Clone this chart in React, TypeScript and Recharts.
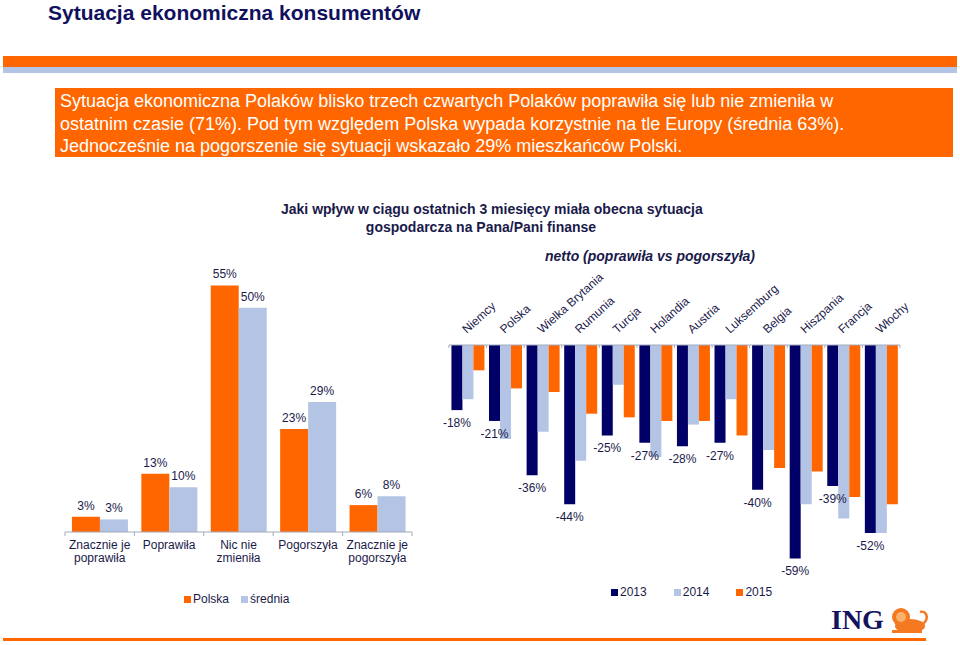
import React from 'react';
import { BarChart, Bar, XAxis, YAxis, LabelList, Legend } from 'recharts';

// left chart: Polska vs average (in %)
const answers = ['Znacznie je\npoprawiła', 'Poprawiła', 'Nic nie\nzmieniła', 'Pogorszyła', 'Znacznie je\npogorszyła'];
const polska = [3.4, 13, 55, 23, 6];
const srednia = [2.8, 10, 50, 29, 8];

// right chart: netto (poprawiła vs pogorszyła)
const countries = ['Niemcy', 'Polska', 'Wielka Brytania', 'Rumunia', 'Turcja', 'Holandia', 'Austria', 'Luksemburg', 'Belgia', 'Hiszpania', 'Francja', 'Włochy'];
const net2013 = [-18, -21, -36, -44, -25, -27, -28, -27, -40, -59, -39, -52];
const net2014 = [-15, -26, -24, -32, -11, -31, -22, -15, -29, -44, -48, -52];
const net2015 = [-7, -12, -13, -19, -20, -21, -21, -25, -34, -35, -42, -44];

const ORANGE = '#FF6600';
const LIGHT = '#B4C4E4';
const NAVY = '#000066';
const TEXT = '#1a1a4a';
const AXIS = '#a3aabb';
const FONT = '"Liberation Sans", Arial, Helvetica, sans-serif';

const answerData = answers.map((a, i) => ({ answer: a, polska: polska[i], srednia: srednia[i] }));
const netData = countries.map((c, i) => ({ country: c, y2013: net2013[i], y2014: net2014[i], y2015: net2015[i] }));

const LEFT_W = 430;
const LEFT_MARGIN = { top: 23, right: 18, bottom: 48, left: 65 };
const RIGHT_W = 500;
const RIGHT_MARGIN = { top: 45, right: 30, bottom: 58, left: 19 };

const leftBand = (LEFT_W - LEFT_MARGIN.left - LEFT_MARGIN.right) / answers.length;
const rightBand = (RIGHT_W - RIGHT_MARGIN.left - RIGHT_MARGIN.right) / countries.length;

function AnswerTick(props: any) {
  const { x, y, payload, index } = props;
  const lines = String(payload.value).split('\n');
  const half = leftBand / 2;
  return (
    <g>
      <line x1={x - half} x2={x - half} y1={y} y2={y + 4} stroke={AXIS} />
      {index === answers.length - 1 && <line x1={x + half} x2={x + half} y1={y} y2={y + 4} stroke={AXIS} />}
      <text x={x} y={y + 17} textAnchor="middle" fontSize={12} fill={TEXT} fontFamily={FONT}>
        {lines.map((l, i) => (
          <tspan key={i} x={x} dy={i === 0 ? 0 : 13}>{l}</tspan>
        ))}
      </text>
    </g>
  );
}

function CountryTick(props: any) {
  const { x, y, payload, index } = props;
  const half = rightBand / 2;
  const tx = x - 1;
  const ty = y - 11;
  return (
    <g>
      <line x1={x - half} x2={x - half} y1={y} y2={y + 3} stroke={AXIS} />
      {index === countries.length - 1 && <line x1={x + half} x2={x + half} y1={y} y2={y + 3} stroke={AXIS} />}
      <text x={tx} y={ty} transform={`rotate(-42 ${tx} ${ty})`} textAnchor="start" fontSize={12} fill={TEXT} fontFamily={FONT}>
        {payload.value}
      </text>
    </g>
  );
}

function renderNetLabel(props: any) {
  const { x, y, width, height, value } = props;
  const end = Math.max(Number(y), Number(y) + Number(height));
  return (
    <text x={Number(x) + Number(width) / 2} y={end + 17} textAnchor="middle" fontSize={12} fill={TEXT} fontFamily={FONT}>
      {value}%
    </text>
  );
}

function legendContent(gap: number) {
  return (props: any) => (
    <div style={{ display: 'flex', gap, fontFamily: FONT, fontSize: 12, color: TEXT, whiteSpace: 'nowrap' }}>
      {(props.payload || []).map((p: any) => (
        <span key={p.value} style={{ display: 'flex', alignItems: 'center' }}>
          <span style={{ display: 'inline-block', width: 7, height: 7, background: p.color, marginRight: 2 }} />
          {p.value}
        </span>
      ))}
    </div>
  );
}

export default function App() {
  return (
    <div style={{ position: 'absolute', left: 0, top: 0, width: 960, height: 645, background: '#fff', fontFamily: FONT, overflow: 'hidden' }}>
      <div style={{ position: 'absolute', left: 48, top: 0, fontSize: 21, lineHeight: '26px', fontWeight: 'bold', color: '#10105e', whiteSpace: 'nowrap' }}>
        Sytuacja ekonomiczna konsumentów
      </div>
      <div style={{ position: 'absolute', left: 3, top: 56, width: 954, height: 11, background: ORANGE }} />
      <div style={{ position: 'absolute', left: 3, top: 67, width: 954, height: 6, background: LIGHT }} />
      <div style={{ position: 'absolute', left: 55, top: 88, width: 898, height: 69, background: ORANGE, color: '#fff', fontSize: 18, lineHeight: '22.5px', padding: '2px 0 0 5px', boxSizing: 'border-box', whiteSpace: 'nowrap' }}>
        Sytuacja ekonomiczna Polaków blisko trzech czwartych Polaków poprawiła się lub nie zmieniła w
        <br />ostatnim czasie (71%). Pod tym względem Polska wypada korzystnie na tle Europy (średnia 63%).
        <br />Jednocześnie na pogorszenie się sytuacji wskazało 29% mieszkańców Polski.
      </div>

      <div style={{ position: 'absolute', left: 281, width: 400, top: 200, fontSize: 14, lineHeight: '18px', fontWeight: 'bold', color: TEXT, textAlign: 'center', whiteSpace: 'nowrap' }}>
        Jaki wpływ w ciągu ostatnich 3 miesięcy miała obecna sytuacja
        <br />gospodarcza na Pana/Pani finanse
      </div>
      <div style={{ position: 'absolute', left: 545, top: 248, fontSize: 14, fontWeight: 'bold', fontStyle: 'italic', color: TEXT, whiteSpace: 'nowrap' }}>
        netto (poprawiła vs pogorszyła)
      </div>

      <div style={{ position: 'absolute', left: 0, top: 240 }}>
        <BarChart width={LEFT_W} height={380} data={answerData} margin={LEFT_MARGIN} barCategoryGap="10%" barGap={0}>
          <XAxis dataKey="answer" height={40} interval={0} tickLine={false} tickSize={0} tickMargin={0} axisLine={{ stroke: AXIS }} tick={<AnswerTick />} />
          <YAxis hide domain={[0, 60]} />
          <Legend layout="horizontal" verticalAlign="middle" align="center" wrapperStyle={{ left: 184, top: 352, width: 200, height: 16 }} content={legendContent(12)} />
          <Bar dataKey="polska" name="Polska" fill={ORANGE} isAnimationActive={false}>
            <LabelList dataKey="polska" position="top" offset={7} fontSize={12} fill={TEXT} formatter={(v: any) => `${Math.round(Number(v))}%`} />
          </Bar>
          <Bar dataKey="srednia" name="średnia" fill={LIGHT} isAnimationActive={false}>
            <LabelList dataKey="srednia" position="top" offset={7} fontSize={12} fill={TEXT} formatter={(v: any) => `${Math.round(Number(v))}%`} />
          </Bar>
        </BarChart>
      </div>

      <div style={{ position: 'absolute', left: 430, top: 240 }}>
        <BarChart width={RIGHT_W} height={380} data={netData} margin={RIGHT_MARGIN} barCategoryGap="6.5%" barGap={0}>
          <XAxis dataKey="country" orientation="top" height={60} interval={0} tickLine={false} tickSize={0} tickMargin={0} axisLine={{ stroke: AXIS }} tick={<CountryTick />} />
          <YAxis hide domain={[-60, 0]} />
          <Legend layout="horizontal" verticalAlign="middle" align="center" wrapperStyle={{ left: 181, top: 345, width: 220, height: 16 }} content={legendContent(27)} />
          <Bar dataKey="y2013" name="2013" fill={NAVY} isAnimationActive={false}>
            <LabelList dataKey="y2013" content={renderNetLabel} />
          </Bar>
          <Bar dataKey="y2014" name="2014" fill={LIGHT} isAnimationActive={false} />
          <Bar dataKey="y2015" name="2015" fill={ORANGE} isAnimationActive={false} />
        </BarChart>
      </div>

      <div style={{ position: 'absolute', left: 831, top: 605, fontFamily: '"Liberation Serif", "Times New Roman", serif', fontWeight: 'bold', fontSize: 28, color: '#14145e', lineHeight: '30px' }}>
        ING
      </div>
      <svg style={{ position: 'absolute', left: 886, top: 604 }} width={44} height={32}>
        <ellipse cx={24} cy={22} rx={15} ry={7} fill="#F47920" />
        <circle cx={15} cy={13} r={9} fill="#F47920" />
        <circle cx={15} cy={13} r={5} fill="#F9B26B" />
        <path d="M37 20 C 44 14, 40 6, 34 8" stroke="#F47920" strokeWidth={2.5} fill="none" />
        <rect x={6} y={26} width={30} height={3} fill="#F47920" />
      </svg>
      <div style={{ position: 'absolute', left: 3, top: 638, width: 923, height: 3, background: ORANGE }} />
    </div>
  );
}
